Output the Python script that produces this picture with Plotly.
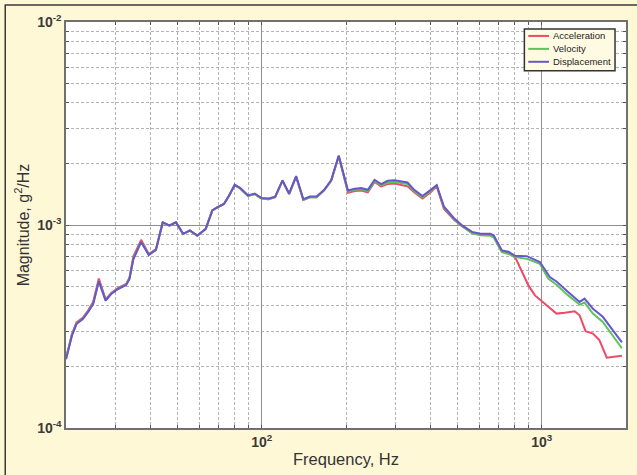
import plotly.graph_objects as go

# Frequency points (Hz) shared by all three spectra up to ~800 Hz
FREQ_HEAD = [20.0, 21.0, 21.8, 23.0, 24.0, 25.0, 26.2, 27.7, 29.0, 30.7,
             32.8, 33.7, 34.8, 37.1, 39.5, 41.9, 44.3, 46.8, 49.4, 52.4,
             55.4, 58.9, 63.1, 66.6, 69.4, 73.3, 76.3, 80.1, 83.9, 89.3,
             94.4, 99.7, 105.8, 111.7, 118.6, 125.3, 132.7, 140.8, 148.7, 157.0,
             167.1, 177.0, 188.4, 203.3, 214.8, 226.6, 239.4, 252.9, 266.9, 281.8,
             297.7, 314.1, 331.8, 350.4, 375.0, 401.5, 421.6, 447.7, 486.2, 520.0,
             564.1, 603.7, 655.0, 673.4, 720.6, 761.2, 803.4]

# PSD magnitudes, g^2/Hz
ACC_HEAD = [2.20e-4, 2.90e-4, 3.31e-4, 3.50e-4, 3.80e-4, 4.18e-4, 5.45e-4, 4.30e-4, 4.62e-4, 4.90e-4,
            5.12e-4, 5.50e-4, 7.00e-4, 8.45e-4, 7.20e-4, 7.60e-4, 1.03e-3, 9.92e-4, 1.03e-3, 9.03e-4,
            9.38e-4, 8.86e-4, 9.56e-4, 1.18e-3, 1.22e-3, 1.27e-3, 1.39e-3, 1.57e-3, 1.51e-3, 1.39e-3,
            1.42e-3, 1.35e-3, 1.34e-3, 1.37e-3, 1.65e-3, 1.42e-3, 1.73e-3, 1.33e-3, 1.37e-3, 1.37e-3,
            1.48e-3, 1.65e-3, 2.18e-3, 1.44e-3, 1.47e-3, 1.48e-3, 1.45e-3, 1.63e-3, 1.55e-3, 1.59e-3,
            1.60e-3, 1.57e-3, 1.55e-3, 1.45e-3, 1.35e-3, 1.45e-3, 1.55e-3, 1.20e-3, 1.06e-3, 9.85e-4,
            9.15e-4, 9.00e-4, 9.00e-4, 8.80e-4, 7.45e-4, 7.30e-4, 6.90e-4]
VEL_HEAD = [2.20e-4, 2.87e-4, 3.27e-4, 3.46e-4, 3.75e-4, 4.10e-4, 5.30e-4, 4.26e-4, 4.59e-4, 4.86e-4,
            5.08e-4, 5.44e-4, 6.81e-4, 8.28e-4, 7.13e-4, 7.54e-4, 1.03e-3, 9.92e-4, 1.03e-3, 9.03e-4,
            9.38e-4, 8.86e-4, 9.56e-4, 1.18e-3, 1.22e-3, 1.27e-3, 1.39e-3, 1.57e-3, 1.51e-3, 1.39e-3,
            1.42e-3, 1.35e-3, 1.34e-3, 1.37e-3, 1.65e-3, 1.42e-3, 1.73e-3, 1.33e-3, 1.37e-3, 1.37e-3,
            1.48e-3, 1.65e-3, 2.18e-3, 1.46e-3, 1.49e-3, 1.50e-3, 1.47e-3, 1.65e-3, 1.57e-3, 1.62e-3,
            1.63e-3, 1.61e-3, 1.59e-3, 1.47e-3, 1.37e-3, 1.47e-3, 1.56e-3, 1.22e-3, 1.07e-3, 9.85e-4,
            9.10e-4, 8.90e-4, 8.85e-4, 8.70e-4, 7.35e-4, 7.20e-4, 6.95e-4]
DISP_HEAD = [2.18e-4, 2.85e-4, 3.25e-4, 3.45e-4, 3.73e-4, 4.08e-4, 5.28e-4, 4.24e-4, 4.57e-4, 4.84e-4,
             5.06e-4, 5.42e-4, 6.78e-4, 8.25e-4, 7.12e-4, 7.53e-4, 1.03e-3, 9.95e-4, 1.03e-3, 9.05e-4,
             9.40e-4, 8.88e-4, 9.58e-4, 1.18e-3, 1.22e-3, 1.27e-3, 1.39e-3, 1.58e-3, 1.52e-3, 1.40e-3,
             1.43e-3, 1.36e-3, 1.35e-3, 1.38e-3, 1.66e-3, 1.43e-3, 1.74e-3, 1.34e-3, 1.38e-3, 1.38e-3,
             1.49e-3, 1.66e-3, 2.20e-3, 1.48e-3, 1.51e-3, 1.52e-3, 1.49e-3, 1.67e-3, 1.59e-3, 1.65e-3,
             1.66e-3, 1.64e-3, 1.62e-3, 1.49e-3, 1.39e-3, 1.49e-3, 1.57e-3, 1.23e-3, 1.08e-3, 9.95e-4,
             9.25e-4, 9.05e-4, 9.05e-4, 8.90e-4, 7.50e-4, 7.38e-4, 7.05e-4]

# High-frequency portions where the three spectra separate
ACC_TAIL_F = [814.5, 896.3, 946.0, 1026.1, 1129.2, 1208.3, 1311.3, 1365.8, 1434.4, 1523.7,
              1607.0, 1707.0, 1892.0, 1934.0]
ACC_TAIL = [6.68e-4, 5.04e-4, 4.50e-4, 4.10e-4, 3.66e-4, 3.70e-4, 3.76e-4, 3.59e-4, 3.00e-4, 2.92e-4,
            2.71e-4, 2.22e-4, 2.25e-4, 2.27e-4]
VEL_TAIL_F = [884.0, 985.1, 1055.0, 1129.2, 1242.4, 1365.8, 1422.6, 1523.7, 1652.2, 1793.4, 1934.0]
VEL_TAIL = [6.81e-4, 6.44e-4, 5.44e-4, 5.08e-4, 4.50e-4, 4.05e-4, 4.15e-4, 3.66e-4, 3.33e-4, 2.87e-4, 2.47e-4]
DISP_TAIL_F = [884.0, 985.1, 1068.9, 1129.2, 1242.4, 1365.8, 1422.6, 1523.7, 1652.2, 1793.4, 1934.0]
DISP_TAIL = [7.02e-4, 6.57e-4, 5.54e-4, 5.27e-4, 4.68e-4, 4.18e-4, 4.34e-4, 3.87e-4, 3.53e-4, 3.03e-4, 2.64e-4]

SERIES = [
    ("Acceleration", FREQ_HEAD + ACC_TAIL_F, ACC_HEAD + ACC_TAIL, "#ee4a68"),
    ("Velocity", FREQ_HEAD + VEL_TAIL_F, VEL_HEAD + VEL_TAIL, "#5cc45c"),
    ("Displacement", FREQ_HEAD + DISP_TAIL_F, DISP_HEAD + DISP_TAIL, "#6a56cc"),
]

X_TICKS = [100, 1000]
X_TICK_TEXT = ["<b>10<sup>2</sup></b>", "<b>10<sup>3</sup></b>"]
Y_TICKS = [1e-4, 1e-3, 1e-2]
Y_TICK_TEXT = ["<b>10<sup>-4</sup></b>", "<b>10<sup>-3</sup></b>", "<b>10<sup>-2</sup></b>"]

x_minor = [m * 10 ** d for d in (1, 2, 3) for m in range(2, 10) if 20 <= m * 10 ** d <= 2000]
y_minor = [m * 10.0 ** d for d in (-4, -3) for m in range(2, 10)]

fig = go.Figure()
for name, f, v, color in SERIES:
    fig.add_trace(go.Scatter(x=f, y=v, mode="lines", name=name, showlegend=False,
                             line=dict(color=color, width=2)))

FONT = "Liberation Sans, Arial, sans-serif"
axis_common = dict(
    type="log",
    showline=True, linecolor="#707070", linewidth=1.5, mirror="ticks",
    ticks="inside", ticklen=3, tickcolor="#555", tickwidth=1,
    showgrid=True, gridcolor="#8e8e8e", gridwidth=1,
    tickfont=dict(family=FONT, size=14, color="#3a3a3a"),
    zeroline=False,
)
minor_common = dict(ticks="inside", ticklen=3, tickcolor="#555",
                    showgrid=True, gridcolor="#b4b4b4", griddash="3px,2px", gridwidth=1)

fig.update_layout(
    width=637, height=475,
    margin=dict(l=66, r=9, t=22, b=45),
    paper_bgcolor="#fff8d6",
    plot_bgcolor="#ffffff",
    font=dict(family=FONT, color="#333"),
    showlegend=False,
    xaxis=dict(**axis_common,
               range=[1.30103, 3.30103],
               tickvals=X_TICKS, ticktext=X_TICK_TEXT,
               minor=dict(tickvals=x_minor, **minor_common),
               title=dict(text="Frequency, Hz", font=dict(family=FONT, size=16.5, color="#333"),
                          standoff=5)),
    yaxis=dict(**axis_common,
               range=[-4, -2],
               tickvals=Y_TICKS, ticktext=Y_TICK_TEXT,
               minor=dict(tickvals=y_minor, **minor_common),
               title=dict(text="Magnitude, g<sup>2</sup>/Hz",
                          font=dict(family=FONT, size=16, color="#333"), standoff=4)),
)

# Dark frame around the figure
fig.add_shape(type="rect", xref="paper", yref="paper",
              x0=-0.1085, x1=1.03, y0=-0.13, y1=1.0417,
              line=dict(color="#3a3a3a", width=1.5), fillcolor="rgba(0,0,0,0)",
              layer="below")

# Compact legend box in the upper right corner of the axes
LEG_X0, LEG_X1, LEG_Y0, LEG_Y1 = 0.8185, 0.9804, 0.8799, 0.9828
LEG_ROWS = [0.9657, 0.9338, 0.902]
fig.add_shape(type="rect", xref="paper", yref="paper",
              x0=LEG_X0, x1=LEG_X1, y0=LEG_Y0, y1=LEG_Y1,
              line=dict(color="#333", width=1.5), fillcolor="#fffbe2")
for (name, _, _, color), ry in zip(SERIES, LEG_ROWS):
    fig.add_shape(type="line", xref="paper", yref="paper",
                  x0=LEG_X0 + 0.007, x1=LEG_X0 + 0.044, y0=ry, y1=ry,
                  line=dict(color=color, width=2))
    fig.add_annotation(x=LEG_X0 + 0.048, y=ry, xref="paper", yref="paper",
                       text=name, showarrow=False, xanchor="left", yanchor="middle",
                       font=dict(family=FONT, size=9.5, color="#222"))

fig.write_html("out.html")
